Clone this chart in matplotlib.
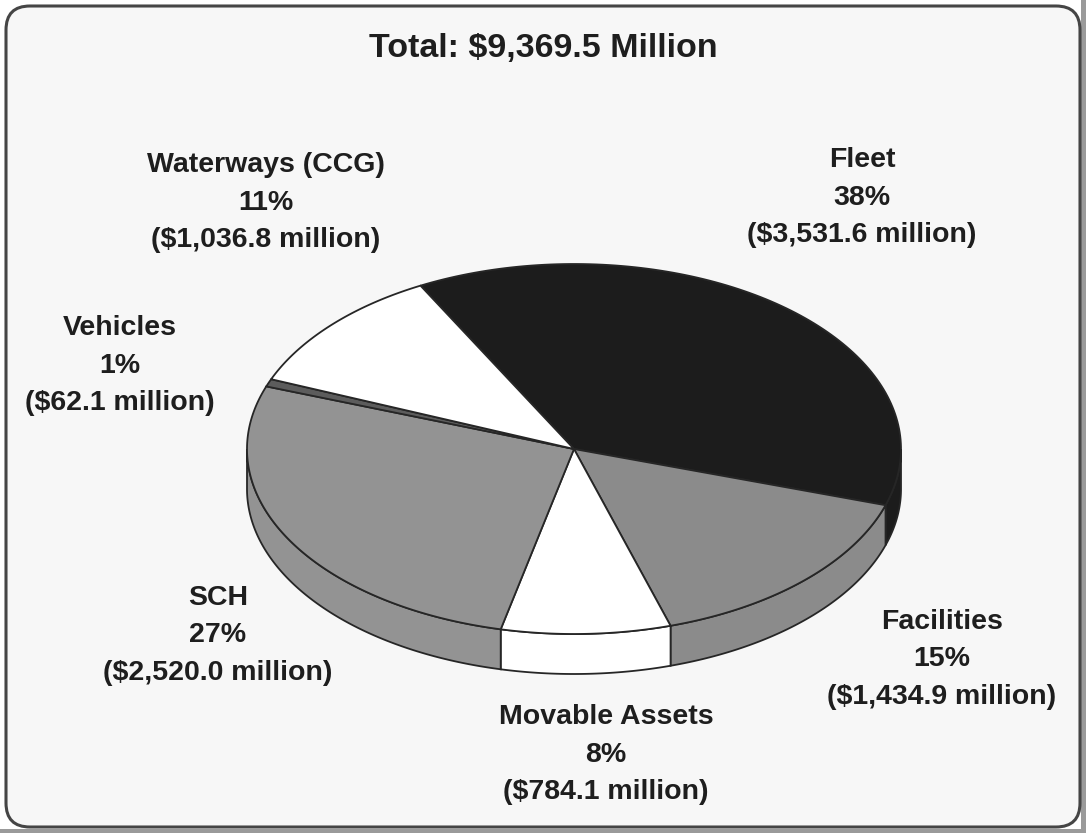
import numpy as np
import matplotlib
matplotlib.use('Agg')
import matplotlib.pyplot as plt
from matplotlib.patches import Polygon, FancyBboxPatch, Rectangle

# spending by category, $ million
labels = ['Fleet', 'Facilities', 'Movable Assets', 'SCH', 'Vehicles', 'Waterways (CCG)']
values = [3531.6, 1434.9, 784.1, 2520.0, 62.1, 1036.8]
colors = ['#1c1c1c', '#8b8b8b', '#ffffff', '#939393', '#5c5c5c', '#ffffff']

total = sum(values)

fig = plt.figure(figsize=(10.86, 8.33), dpi=100)
fig.patch.set_facecolor('white')
ax = fig.add_axes([0, 0, 1, 1])
ax.set_xlim(0, 1086)
ax.set_ylim(833, 0)
ax.axis('off')

# page edge + rounded frame
ax.add_patch(Rectangle((1081, 0), 5, 833, fc='#9a9a9a', ec='none'))
ax.add_patch(Rectangle((0, 829), 1086, 4, fc='#9a9a9a', ec='none'))
ax.add_patch(FancyBboxPatch((6, 6), 1074, 821, boxstyle='round,pad=0,rounding_size=24',
                            fc='#f7f7f7', ec='#454545', lw=2.2))

# 3d pie geometry (pixels)
cx, cy = 574, 449
a, b = 327, 185
depth = 40
start = 118.0
edge = '#262626'


def rim(t1, t2, dy=0, n=120):
    t = np.radians(np.linspace(t1, t2, n))
    return np.column_stack([cx + a * np.cos(t), cy - b * np.sin(t) + dy])


angles = []
t = start
for v in values:
    span = v / total * 360.0
    angles.append((t, t - span))
    t -= span

# side walls (front half only)
for (t1, t2), c in zip(angles, colors):
    hi = min(t1, 0.0)
    lo = max(t2, -180.0)
    if hi <= lo:
        continue
    top = rim(hi, lo)
    bot = rim(lo, hi, depth)
    ax.add_patch(Polygon(np.vstack([top, bot]), closed=True, fc=c, ec=edge, lw=1.3, zorder=2))

# top faces
for (t1, t2), c in zip(angles, colors):
    pts = np.vstack([[cx, cy], rim(t1, t2)])
    ax.add_patch(Polygon(pts, closed=True, fc=c, ec=edge, lw=1.3, zorder=3))

# labels
txt = dict(family='Liberation Sans', weight='bold', color='#1e1e1e', ha='center', va='center')
ax.text(543, 48, 'Total: ${:,.1f} Million'.format(total), fontsize=24.5, **txt)

label_xy = [(862, 160), (942, 622), (606, 717), (218, 598), (120, 328), (266, 165)]
step = 37.5
for lab, v, (x, y) in zip(labels, values, label_xy):
    pct = '{:.0f}%'.format(v / total * 100)
    amt = '(${:,.1f} million)'.format(v)
    ax.text(x, y, lab, fontsize=20.5, **txt)
    ax.text(x, y + step, pct, fontsize=20.5, **txt)
    ax.text(x, y + 2 * step, amt, fontsize=20.5, **txt)

fig.savefig('out.png', dpi=100)
